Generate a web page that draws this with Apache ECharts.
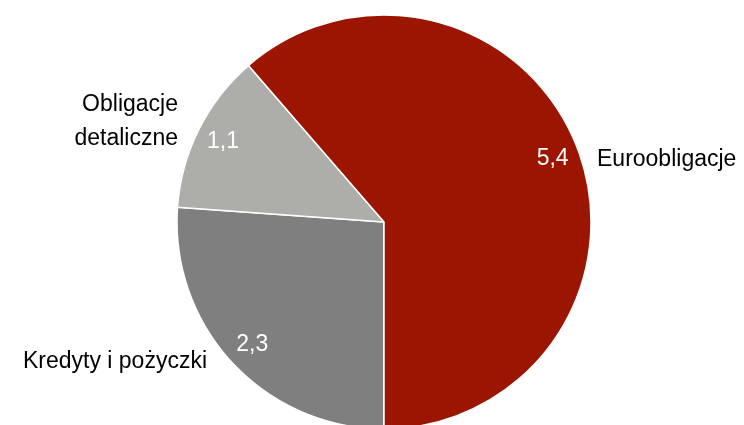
<!DOCTYPE html>
<html>
<head>
<meta charset="utf-8">
<script src="https://cdn.jsdelivr.net/npm/echarts@6/dist/echarts.min.js"></script>
<style>html,body{margin:0;padding:0;background:#fff}#c{width:744px;height:425px}</style>
</head>
<body>
<div id="c"></div>
<script>
const categories = ['Kredyty i pożyczki', 'Obligacje\ndetaliczne', 'Euroobligacje'];
const values = [2.3, 1.1, 5.4];
const valueLabels = ['2,3', '1,1', '5,4'];
const colors = ['#7f7f7f', '#adadaa', '#9c1500'];

const FONT = '"Liberation Sans", Arial, sans-serif';
const chart = echarts.init(document.getElementById('c'));
const data = categories.map((n, i) => ({ name: n, value: values[i], itemStyle: { color: colors[i] } }));
const nameLayout = [
  { x: 207, y: 362, align: 'right', verticalAlign: 'middle' },
  { x: 178, y: 122, align: 'right', verticalAlign: 'middle' },
  { x: 597, y: 160, align: 'left', verticalAlign: 'middle' }
];
chart.setOption({
  animation: false,
  series: [
    {
      type: 'pie',
      center: [384, 222],
      radius: [0, 207],
      startAngle: 270,
      clockwise: true,
      silent: true,
      itemStyle: { borderColor: '#fff', borderWidth: 1.5 },
      label: {
        show: true, position: 'outside', formatter: '{b}', overflow: 'none',
        color: '#000', fontFamily: FONT, fontSize: 23, lineHeight: 34
      },
      labelLine: { show: false },
      labelLayout: p => nameLayout[p.dataIndex],
      data: data
    },
    {
      type: 'pie',
      center: [384, 222],
      radius: [0, 354],
      startAngle: 270,
      clockwise: true,
      silent: true,
      itemStyle: { color: 'rgba(0,0,0,0)' },
      label: {
        show: true, position: 'inside', overflow: 'none',
        formatter: p => valueLabels[p.dataIndex],
        color: '#fff', fontFamily: FONT, fontSize: 23
      },
      labelLine: { show: false },
      data: values.map((v, i) => ({ name: categories[i], value: v }))
    }
  ]
});
</script>
</body>
</html>
